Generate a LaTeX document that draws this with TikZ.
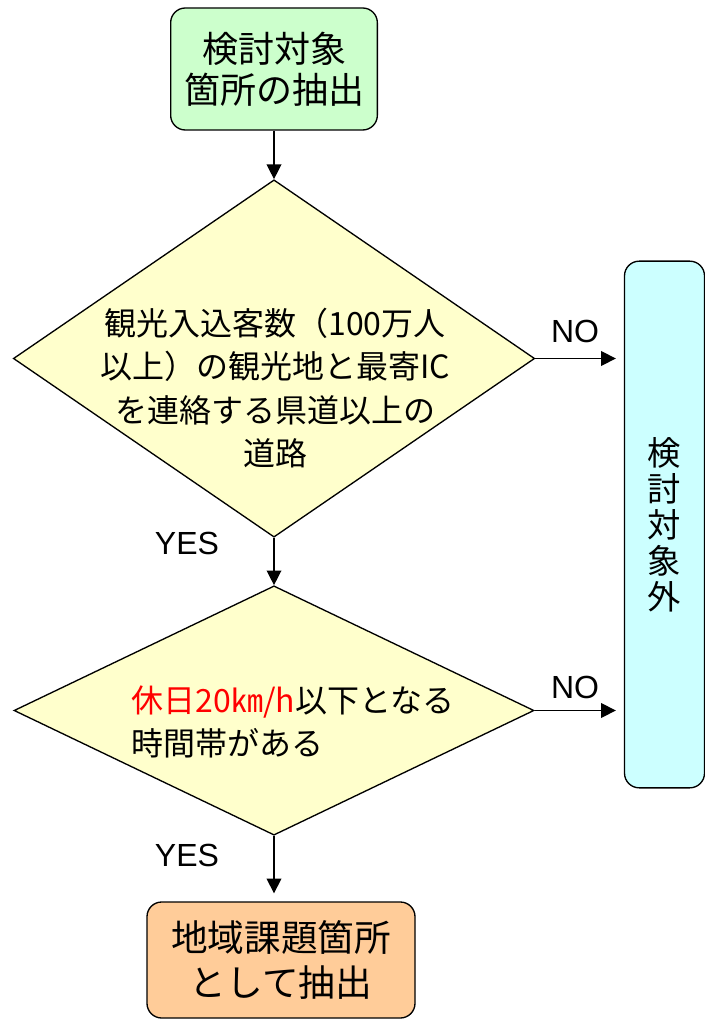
\documentclass[tikz,border=0pt]{standalone}
\usepackage{fontspec}
\setmainfont{Noto Sans CJK JP}
\newfontfamily\yesnofont{Liberation Sans}
\usetikzlibrary{shapes.geometric,arrows.meta}
\definecolor{startfill}{HTML}{CCFFCC}
\definecolor{condfill}{HTML}{FFFFCC}
\definecolor{outfill}{HTML}{CCFFFF}
\definecolor{goalfill}{HTML}{FFCC99}
\tikzset{
  box/.style={draw, rectangle, rounded corners=11pt, inner sep=0pt, align=center},
  cond/.style={draw, diamond, fill=condfill, inner sep=0pt},
  answer/.style={inner sep=0pt, font=\yesnofont\fontsize{24}{24}\selectfont},
}
\begin{document}
\begin{tikzpicture}[x=0.75pt, y=-0.75pt, line width=1pt, >={Triangle[length=11pt,width=11pt]}]
\useasboundingbox (0,0) rectangle (704,1019);
\node [box, fill=startfill, minimum width=155pt, minimum height=91.5pt, font=\fontsize{27}{31}\selectfont] (start) at(274,69) {検討対象\\箇所の抽出};
\node [cond, minimum width=391pt, minimum height=268pt] (q1) at(274,358.5) {};
\node [cond, minimum width=390pt, minimum height=187pt] (q2) at(274,710.5) {};
\node [box, fill=outfill, minimum width=60pt, minimum height=395pt, font=\fontsize{25}{27}\selectfont] (out) at(664.5,524.5) {検\\討\\対\\象\\外};
\node [box, fill=goalfill, minimum width=201pt, minimum height=87pt, font=\fontsize{27.5}{34}\selectfont] (goal) at(281,960) {地域課題箇所\\として抽出};
\node [align=center, inner sep=0pt, font=\fontsize{24}{32.5}\selectfont] (q1text) at(275,388) {観光入込客数（100万人\\以上）の観光地と最寄IC\\を連絡する県道以上の\\道路};
\node [align=left, inner sep=0pt, font=\fontsize{24}{32}\selectfont] (q2text) at(293,722) {{\color{red}休日20㎞/h}以下となる\\時間帯がある};
\draw [->] (start) -- (q1);
\draw [->] (q1) -- (q2);
\draw [->, shorten >=6pt] (q2.south) -- (q2.south |- goal.north);
\draw [->, shorten >=6pt] (q1.east) -- (q1.east -| out.west);
\draw [->, shorten >=6pt] (q2.east) -- (q2.east -| out.west);
\node [answer] (yes1) at(187,543) {YES};
\node [answer] (yes2) at(187,855.5) {YES};
\node [answer] (no1) at(575,331.5) {NO};
\node [answer] (no2) at(575,687) {NO};
\end{tikzpicture}
\end{document}
